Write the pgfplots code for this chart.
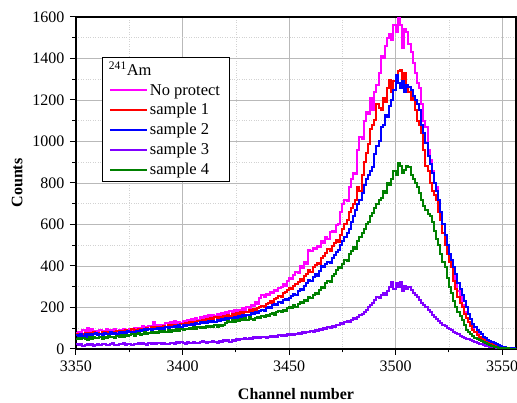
\documentclass[border=0pt]{standalone}
\usepackage{fontspec}
\setmainfont{Liberation Serif}
\usepackage{pgfplots}
\pgfplotsset{compat=1.18}
\usepackage{pgfplotstable}
\definecolor{cNP}{RGB}{255,0,255}
\definecolor{cS1}{RGB}{255,0,0}
\definecolor{cS2}{RGB}{0,0,255}
\definecolor{cS3}{RGB}{128,0,255}
\definecolor{cS4}{RGB}{0,128,0}
\pgfplotstableread{
ch np s1 s2 s3 s4
3350 78 72 68 22 48
3351 84 66 62 18 52
3352 76 74 70 24 46
3353 90 70 64 16 54
3354 82 78 72 20 50
3355 100 68 60 23 44
3356 86 76 74 19 56
3357 94 72 66 25 50
3358 80 80 70 15 58
3359 88 70 76 21 52
3360 84 78 68 24 54
3361 92 74 72 18 60
3362 78 82 66 22 50
3363 88 76 78 26 58
3364 94 84 70 20 54
3365 82 78 74 17 62
3366 90 72 80 23 56
3367 86 84 72 27 60
3368 96 80 78 21 52
3369 84 88 74 19 64
3370 92 78 82 25 58
3371 88 86 76 22 66
3372 98 82 84 28 60
3373 90 90 78 20 68
3374 86 84 86 26 62
3375 96 88 80 24 66
3376 92 94 84 18 72
3377 102 86 78 26 64
3378 94 92 88 23 70
3379 100 96 84 29 76
3380 96 90 92 22 68
3381 110 98 86 27 74
3382 104 94 94 25 80
3383 100 100 90 21 72
3384 112 96 96 28 78
3385 106 104 92 24 82
3386 128 98 98 30 76
3387 108 106 94 23 84
3388 114 102 100 27 78
3389 110 108 96 31 86
3390 118 104 102 25 80
3391 112 110 98 29 88
3392 124 106 106 26 82
3393 116 114 100 22 90
3394 128 108 108 30 84
3395 120 116 104 27 92
3396 134 112 110 24 86
3397 124 118 106 32 94
3398 130 114 114 28 88
3399 126 122 108 34 96
3400 136 118 116 29 90
3401 130 126 112 25 98
3402 142 120 118 33 94
3403 134 128 114 30 102
3404 146 124 122 27 96
3405 138 132 118 35 104
3406 150 126 124 31 98
3407 142 136 120 28 106
3408 154 130 128 34 100
3409 146 140 124 37 108
3410 158 134 130 32 102
3411 150 144 126 29 110
3412 162 138 134 36 104
3413 154 148 130 33 112
3414 166 142 136 38 106
3415 158 152 132 35 114
3416 170 146 140 31 108
3417 162 156 136 39 116
3418 174 150 144 36 110
3419 166 160 140 41 118
3420 178 154 148 38 126
3421 170 164 142 42 134
3422 182 158 150 36 128
3423 174 168 146 44 138
3424 186 162 154 40 132
3425 180 172 150 48 140
3426 190 166 158 42 134
3427 184 176 154 50 144
3428 196 172 162 46 138
3429 190 180 158 52 148
3430 204 176 166 48 142
3431 198 186 162 54 152
3432 214 180 172 50 146
3433 206 192 168 56 140
3434 226 186 178 52 150
3435 218 198 174 58 156
3436 244 200 182 54 150
3437 258 208 190 60 160
3438 250 202 184 56 154
3439 266 216 198 52 164
3440 262 222 204 58 158
3441 276 230 198 62 168
3442 270 224 212 56 172
3443 284 240 218 64 166
3444 278 248 212 60 178
3445 294 256 226 66 184
3446 300 250 220 62 176
3447 314 268 234 68 190
3448 306 276 240 64 184
3449 330 286 236 70 196
3450 342 294 248 66 202
3451 336 288 256 72 196
3452 358 306 266 68 210
3453 372 314 262 74 204
3454 364 322 280 78 218
3455 400 336 290 72 226
3456 392 330 284 80 220
3457 420 352 306 76 236
3458 410 362 318 84 230
3459 478 380 332 80 252
3460 470 372 326 88 246
3461 488 396 346 84 262
3462 480 404 360 92 270
3463 498 416 354 88 264
3464 490 410 378 96 284
3465 520 440 400 92 300
3466 512 450 394 100 294
3467 540 462 410 96 318
3468 532 480 420 104 330
3469 562 474 414 100 324
3470 570 496 440 110 350
3471 564 510 452 106 362
3472 596 526 468 114 380
3473 600 518 478 118 395
3474 660 548 500 124 388
3475 700 580 520 120 410
3476 720 600 540 130 430
3477 714 620 560 136 424
3478 780 660 580 132 460
3479 820 680 610 142 470
3480 850 700 640 148 490
3481 842 720 670 144 484
3482 960 780 700 156 520
3483 1020 760 718 164 540
3484 1012 840 750 170 560
3485 1100 900 790 180 580
3486 1140 946 820 190 600
3487 1132 990 840 200 610
3488 1210 1060 860 210 640
3489 1150 1080 877 220 655
3490 1240 1104 940 236 680
3491 1270 1180 980 250 700
3492 1330 1160 1000 246 718
3493 1410 1150 1070 262 730
3494 1400 1210 1080 270 760
3495 1460 1190 1130 258 750
3496 1500 1260 1120 280 800
3497 1520 1296 1170 300 790
3498 1490 1240 1200 324 820
3499 1560 1290 1250 290 860
3500 1530 1310 1320 318 840
3501 1595 1340 1280 300 896
3502 1560 1345 1260 322 880
3503 1450 1300 1290 280 850
3504 1540 1330 1240 306 862
3505 1530 1270 1270 290 880
3506 1470 1240 1263 298 877
3507 1430 1200 1250 282 840
3508 1380 1210 1220 270 820
3509 1330 1150 1200 262 800
3510 1280 1100 1180 250 780
3511 1260 1080 1150 236 750
3512 1180 1040 1080 224 718
3513 1100 960 1040 212 690
3514 1070 880 993 200 670
3515 960 860 930 190 650
3516 910 800 890 176 640
3517 860 760 850 166 610
3518 800 740 800 156 570
3519 780 718 760 146 530
3520 700 660 718 136 500
3521 650 620 660 126 460
3522 600 560 600 118 420
3523 540 500 550 110 395
3524 490 460 500 102 340
3525 440 420 460 96 300
3526 410 395 430 90 270
3527 360 330 395 82 230
3528 320 290 360 76 200
3529 280 250 320 70 180
3530 250 220 290 64 160
3531 210 200 260 58 140
3532 180 170 230 54 115
3533 150 150 200 50 92
3534 130 130 170 46 82
3535 110 110 145 43 72
3536 95 92 122 38 62
3537 82 80 105 34 55
3538 70 68 92 30 48
3539 60 58 80 26 42
3540 50 50 70 22 37
3541 42 44 60 19 33
3542 36 38 52 16 29
3543 31 33 45 14 23
3544 27 29 38 12 18
3545 22 24 33 10 14
3546 18 20 29 8 11
3547 15 16 23 7 9
3548 12 13 18 6 7
3549 10 10 14 5 6
3550 8 8 10 4 5
3551 6 6 8 3 4
3552 5 5 6 3 3
3553 4 4 5 2 2
3554 3 3 4 2 2
3555 2 2 3 1 1
3556 2 2 2 1 1
3557 1 1 2 1 1
}\data
\begin{document}
\begin{tikzpicture}
\useasboundingbox (-76pt,-54pt) rectangle (441pt,349pt);
\begin{axis}[
  scale only axis, width=440pt, height=332pt,
  xmin=3350, xmax=3556.5, ymin=0, ymax=1600,
  xtick={3350,3400,...,3550}, minor x tick num=1,
  ytick={0,200,...,1600}, minor y tick num=1,
  xtick pos=bottom, ytick pos=left,
  tick align=outside, major tick length=6pt, minor tick length=3.5pt,
  tick style={black, line width=1pt},
  grid=both,
  major grid style={gray!55, line width=0.7pt},
  minor grid style={gray!35, dotted, line width=0.6pt},
  axis line style={line width=1.6pt},
  font=\fontsize{16}{19}\selectfont,
  /pgf/number format/assume math mode=true,
  /pgf/number format/1000 sep={},
  xticklabel style={yshift=-2pt},
  yticklabel style={xshift=-2pt},
  xlabel={\textbf{Channel number}}, ylabel={\textbf{Counts}},
  xlabel style={yshift=-10pt},
  ylabel style={yshift=3pt},
  legend style={at={(0.059,0.881)}, anchor=north west, draw=black, line width=0.6pt,
    font=\fontsize{16.5}{19}\selectfont, row sep=3pt, inner xsep=7pt, inner ysep=3pt,
    cells={anchor=west}},
  legend image post style={xscale=2.15},
]
\addlegendimage{empty legend}
\addlegendentry{\hspace*{-41pt}\textsuperscript{241}Am}
\addplot[const plot, color=cNP, line width=2pt] table[x=ch, y=np] {\data};
\addlegendentry{No protect}
\addplot[const plot, color=cS1, line width=2pt] table[x=ch, y=s1] {\data};
\addlegendentry{sample 1}
\addplot[const plot, color=cS2, line width=2pt] table[x=ch, y=s2] {\data};
\addlegendentry{sample 2}
\addplot[const plot, color=cS3, line width=2pt] table[x=ch, y=s3] {\data};
\addlegendentry{sample 3}
\addplot[const plot, color=cS4, line width=2pt] table[x=ch, y=s4] {\data};
\addlegendentry{sample 4}
\end{axis}
\end{tikzpicture}
\end{document}
